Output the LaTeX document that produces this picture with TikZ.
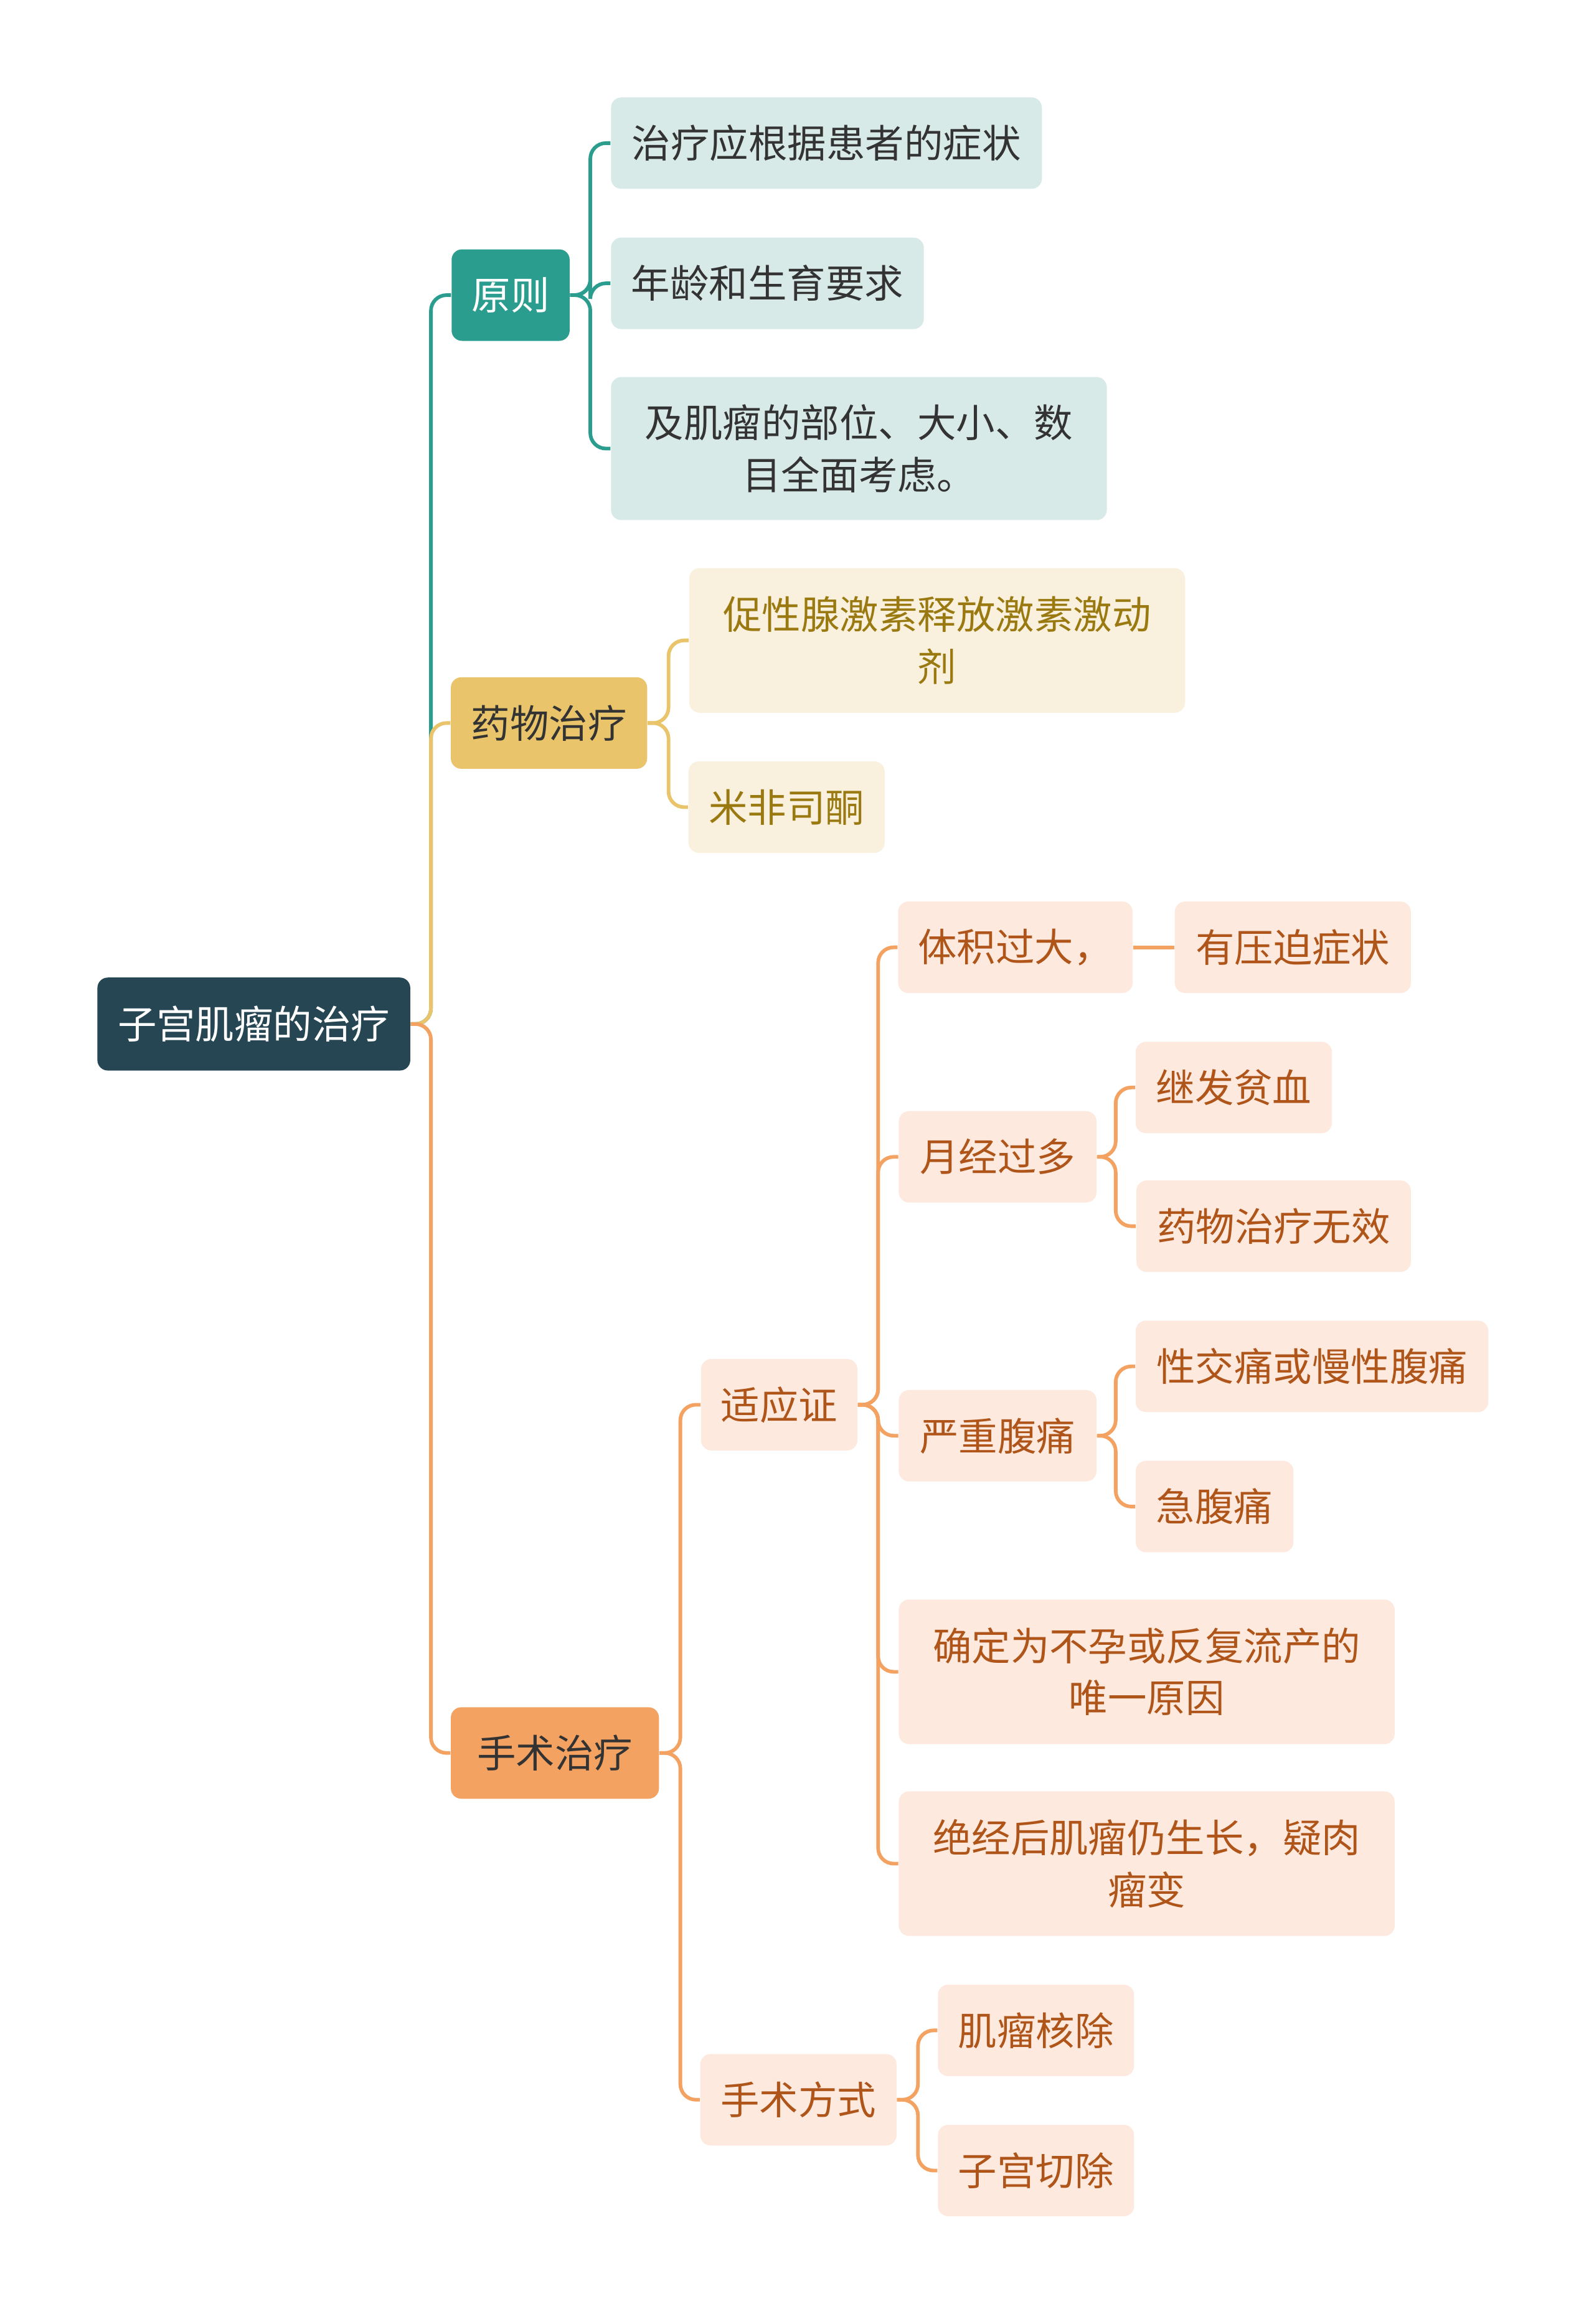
\documentclass[tikz,border=0pt]{standalone}
\usepackage{fontspec}
\setmainfont{Noto Sans CJK SC}
\definecolor{rootc}{HTML}{264653}
\definecolor{tealc}{HTML}{2A9D8F}
\definecolor{tealfill}{HTML}{D7EAE7}
\definecolor{mustc}{HTML}{E9C46A}
\definecolor{mustfill}{HTML}{F9F1DD}
\definecolor{musttext}{HTML}{9A7A10}
\definecolor{orgc}{HTML}{F4A261}
\definecolor{orgfill}{HTML}{FDE9DE}
\definecolor{orgtext}{HTML}{B0551A}
\tikzset{
  box/.style={rounded corners=4pt, inner sep=0pt, align=center, font=\fontsize{15}{20}\selectfont},
  rootbox/.style={box, fill=rootc, text=white},
  tealbox/.style={box, fill=tealc, text=white},
  tleaf/.style={box, fill=tealfill, text=black!80},
  mustbox/.style={box, fill=mustc, text=black!80},
  mleaf/.style={box, fill=mustfill, text=musttext},
  orgbox/.style={box, fill=orgc, text=black!80},
  oleaf/.style={box, fill=orgfill, text=orgtext},
  link/.style={line width=1.4pt, rounded corners=6pt}
}
% name, cx, cy, w, h, style, text
\def\bx#1#2#3#4#5#6#7{\node[#6, minimum width=#4*0.02cm, minimum height=#5*0.02cm] (#1) at (#2,#3) {#7};}
\def\conn#1#2#3#4{\coordinate (trunk) at (#3,0);
  \draw[link, #4] (#1.east) -- (trunk |- #1.east) -- (trunk |- #2.west) -- (#2.west);}

\begin{document}
\begin{tikzpicture}[x=0.02cm, y=-0.02cm]
	\useasboundingbox (0,0) rectangle (1080,1575);
	
	\bx{root}{172}{694}{212}{63}{rootbox}{子宫肌瘤的治疗}
	
	\bx{yuanze}{346}{200}{80}{62}{tealbox}{原则}
	\bx{yz1}{560}{97}{292}{62}{tleaf}{治疗应根据患者的症状}
	\bx{yz2}{520}{192}{212}{62}{tleaf}{年龄和生育要求}
	\bx{yz3}{582}{304}{336}{97}{tleaf}{及肌瘤的部位、大小、数\\目全面考虑。}
	
	\bx{yaowu}{372}{490}{133}{62}{mustbox}{药物治疗}
	\bx{yw1}{635}{434}{336}{98}{mleaf}{促性腺激素释放激素激动\\剂}
	\bx{yw2}{533}{547}{133}{62}{mleaf}{米非司酮}
	
	\bx{shoushu}{376}{1188}{141}{62}{orgbox}{手术治疗}
	\bx{shiying}{528}{952}{106}{62}{oleaf}{适应证}
	\bx{tiji}{688}{642}{159}{62}{oleaf}{体积过大，}
	\bx{yapo}{876}{642}{160}{62}{oleaf}{有压迫症状}
	\bx{yuejing}{676}{784}{134}{62}{oleaf}{月经过多}
	\bx{pinxue}{836}{737}{133}{62}{oleaf}{继发贫血}
	\bx{wuxiao}{863}{831}{186}{62}{oleaf}{药物治疗无效}
	\bx{futong}{676}{973}{134}{62}{oleaf}{严重腹痛}
	\bx{xingjiao}{889}{926}{239}{62}{oleaf}{性交痛或慢性腹痛}
	\bx{jifu}{823}{1021}{107}{62}{oleaf}{急腹痛}
	\bx{buyun}{777}{1133}{336}{98}{oleaf}{确定为不孕或反复流产的\\唯一原因}
	\bx{juejing}{777}{1263}{336}{98}{oleaf}{绝经后肌瘤仍生长，疑肉\\瘤变}
	\bx{fangshi}{541}{1423}{133}{62}{oleaf}{手术方式}
	\bx{hechu}{702}{1376}{133}{62}{oleaf}{肌瘤核除}
	\bx{qiechu}{702}{1471}{133}{62}{oleaf}{子宫切除}
	
	% connectors
	\conn{root}{yuanze}{292}{tealc}
	\conn{root}{yaowu}{292}{mustc}
	\conn{root}{shoushu}{292}{orgc}
	\foreach \c in {yz1,yz2,yz3} {\conn{yuanze}{\c}{400}{tealc}}
	\foreach \c in {yw1,yw2} {\conn{yaowu}{\c}{453}{mustc}}
	\foreach \c in {shiying,fangshi} {\conn{shoushu}{\c}{461}{orgc}}
	\foreach \c in {tiji,yuejing,futong,buyun,juejing} {\conn{shiying}{\c}{595}{orgc}}
	\draw[link, orgc] (tiji) -- (yapo);
	\foreach \c in {pinxue,wuxiao} {\conn{yuejing}{\c}{756}{orgc}}
	\foreach \c in {xingjiao,jifu} {\conn{futong}{\c}{756}{orgc}}
	\foreach \c in {hechu,qiechu} {\conn{fangshi}{\c}{622}{orgc}}
\end{tikzpicture}
\end{document}
